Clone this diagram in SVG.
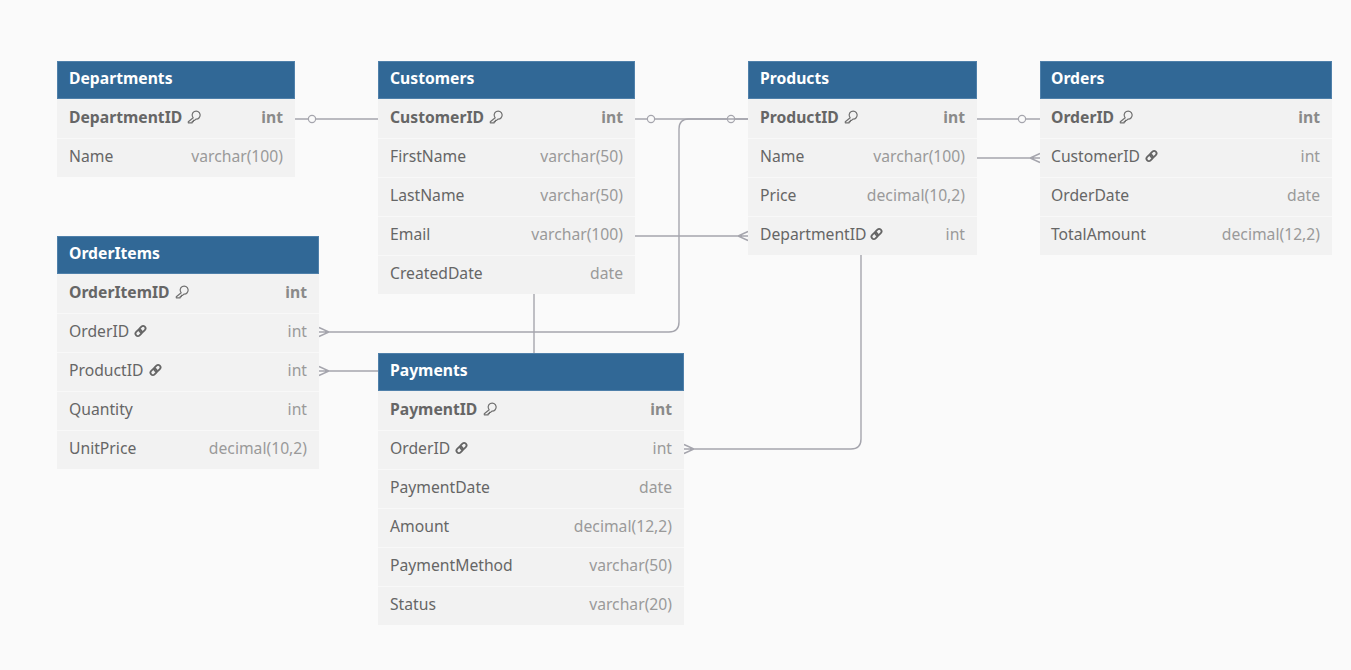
<svg xmlns="http://www.w3.org/2000/svg" xmlns:xlink="http://www.w3.org/1999/xlink" width="1351" height="670" viewBox="0 0 1351 670">
<style>
.hd{fill:#316896;stroke:#4f80aa;stroke-width:1}
.bd{fill:#f2f2f2}
.sep{stroke:#f8f8f8;stroke-width:1}
text{font-family:"Noto Sans","Open Sans",sans-serif;font-size:15.7px}
.ht{fill:#ffffff;font-weight:700}
.nm{fill:#666666}
.pk{font-weight:700}
.ty{fill:#9a9a9a;text-anchor:end}
.tpk{fill:#8a8a8a;font-weight:700;text-anchor:end}
.ln{fill:none;stroke:#a5a5ad;stroke-width:1.4}
.dot{fill:#fafafa;stroke:#a5a5ad;stroke-width:1.2}
.ic{fill:none;stroke:#707070;stroke-width:1.2;stroke-linecap:round;stroke-linejoin:round}
.lk{fill:none;stroke:#666666;stroke-width:1.8}
</style>
<defs>
<g id="key"><path class="ic" d="M6.2 7.3 A4 4 0 1 1 8.9 8.6 L7.6 9.9 L6.4 9.9 L6.4 11.1 L5.2 11.1 L5.2 12.3 L1.3 12.3 L1.3 11.3 Z"/></g>
<g id="link"><g transform="rotate(-45 6.5 6.5)"><rect class="lk" x="0.4" y="4.1" width="7" height="4.8" rx="2.4"/><rect class="lk" x="5.6" y="4.1" width="7" height="4.8" rx="2.4"/></g></g>
</defs>
<rect width="1351" height="670" fill="#fafafa"/>

<g id="connectors">
<path class="ln" d="M295 119 H378"/><circle class="dot" cx="312" cy="119" r="3.6"/>
<path class="ln" d="M635 119 H748"/><circle class="dot" cx="651" cy="119" r="3.6"/><circle class="dot" cx="731" cy="119" r="3.6"/>
<path class="ln" d="M748 119 H689 Q679 119 679 129 V322 Q679 332 669 332 H319 M319 327.5 L329 332 L319 336.5"/>
<path class="ln" d="M977 119 H1040"/><circle class="dot" cx="1022" cy="119" r="3.6"/>
<path class="ln" d="M977 158 H1040 M1040 153.5 L1030 158 L1040 162.5"/>
<path class="ln" d="M635 236 H748 M748 231.5 L738 236 L748 240.5"/>
<path class="ln" d="M534 294 V353"/>
<path class="ln" d="M319 371 H378 M319 366.5 L329 371 L319 375.5"/>
<path class="ln" d="M861 255 V439 Q861 449 851 449 H684 M684 444.5 L694 449 L684 453.5"/>
</g>

<g id="Departments">
<rect class="bd" x="57" y="99" width="238" height="78"/>
<line class="sep" x1="57" y1="138.5" x2="295" y2="138.5"/>
<rect class="hd" x="57.5" y="61.5" width="237" height="37"/>
<text class="ht" x="69" y="84">Departments</text>
<text class="nm pk" x="69" y="123">DepartmentID</text><use xlink:href="#key" x="187" y="110.5"/><text class="tpk" x="283" y="123">int</text>
<text class="nm" x="69" y="162">Name</text><text class="ty" x="283" y="162">varchar(100)</text>
</g>

<g id="Customers">
<rect class="bd" x="378" y="99" width="257" height="195"/>
<line class="sep" x1="378" y1="138.5" x2="635" y2="138.5"/>
<line class="sep" x1="378" y1="177.5" x2="635" y2="177.5"/>
<line class="sep" x1="378" y1="216.5" x2="635" y2="216.5"/>
<line class="sep" x1="378" y1="255.5" x2="635" y2="255.5"/>
<rect class="hd" x="378.5" y="61.5" width="256" height="37"/>
<text class="ht" x="390" y="84">Customers</text>
<text class="nm pk" x="390" y="123">CustomerID</text><use xlink:href="#key" x="489" y="110.5"/><text class="tpk" x="623" y="123">int</text>
<text class="nm" x="390" y="162">FirstName</text><text class="ty" x="623" y="162">varchar(50)</text>
<text class="nm" x="390" y="201">LastName</text><text class="ty" x="623" y="201">varchar(50)</text>
<text class="nm" x="390" y="240">Email</text><text class="ty" x="623" y="240">varchar(100)</text>
<text class="nm" x="390" y="279">CreatedDate</text><text class="ty" x="623" y="279">date</text>
</g>

<g id="Products">
<rect class="bd" x="748" y="99" width="229" height="156"/>
<line class="sep" x1="748" y1="138.5" x2="977" y2="138.5"/>
<line class="sep" x1="748" y1="177.5" x2="977" y2="177.5"/>
<line class="sep" x1="748" y1="216.5" x2="977" y2="216.5"/>
<rect class="hd" x="748.5" y="61.5" width="228" height="37"/>
<text class="ht" x="760" y="84">Products</text>
<text class="nm pk" x="760" y="123">ProductID</text><use xlink:href="#key" x="844" y="110.5"/><text class="tpk" x="965" y="123">int</text>
<text class="nm" x="760" y="162">Name</text><text class="ty" x="965" y="162">varchar(100)</text>
<text class="nm" x="760" y="201">Price</text><text class="ty" x="965" y="201">decimal(10,2)</text>
<text class="nm" x="760" y="240">DepartmentID</text><use xlink:href="#link" x="870" y="227.5"/><text class="ty" x="965" y="240">int</text>
</g>

<g id="Orders">
<rect class="bd" x="1040" y="99" width="292" height="156"/>
<line class="sep" x1="1040" y1="138.5" x2="1332" y2="138.5"/>
<line class="sep" x1="1040" y1="177.5" x2="1332" y2="177.5"/>
<line class="sep" x1="1040" y1="216.5" x2="1332" y2="216.5"/>
<rect class="hd" x="1040.5" y="61.5" width="291" height="37"/>
<text class="ht" x="1051" y="84">Orders</text>
<text class="nm pk" x="1051" y="123">OrderID</text><use xlink:href="#key" x="1119" y="110.5"/><text class="tpk" x="1320" y="123">int</text>
<text class="nm" x="1051" y="162">CustomerID</text><use xlink:href="#link" x="1145" y="149.5"/><text class="ty" x="1320" y="162">int</text>
<text class="nm" x="1051" y="201">OrderDate</text><text class="ty" x="1320" y="201">date</text>
<text class="nm" x="1051" y="240">TotalAmount</text><text class="ty" x="1320" y="240">decimal(12,2)</text>
</g>

<g id="OrderItems">
<rect class="bd" x="57" y="274" width="262" height="195"/>
<line class="sep" x1="57" y1="313.5" x2="319" y2="313.5"/>
<line class="sep" x1="57" y1="352.5" x2="319" y2="352.5"/>
<line class="sep" x1="57" y1="391.5" x2="319" y2="391.5"/>
<line class="sep" x1="57" y1="430.5" x2="319" y2="430.5"/>
<rect class="hd" x="57.5" y="236.5" width="261" height="37"/>
<text class="ht" x="69" y="259">OrderItems</text>
<text class="nm pk" x="69" y="298">OrderItemID</text><use xlink:href="#key" x="175" y="285.5"/><text class="tpk" x="307" y="298">int</text>
<text class="nm" x="69" y="337">OrderID</text><use xlink:href="#link" x="134" y="324.5"/><text class="ty" x="307" y="337">int</text>
<text class="nm" x="69" y="376">ProductID</text><use xlink:href="#link" x="149" y="363.5"/><text class="ty" x="307" y="376">int</text>
<text class="nm" x="69" y="415">Quantity</text><text class="ty" x="307" y="415">int</text>
<text class="nm" x="69" y="454">UnitPrice</text><text class="ty" x="307" y="454">decimal(10,2)</text>
</g>

<g id="Payments">
<rect class="bd" x="378" y="391" width="306" height="234"/>
<line class="sep" x1="378" y1="430.5" x2="684" y2="430.5"/>
<line class="sep" x1="378" y1="469.5" x2="684" y2="469.5"/>
<line class="sep" x1="378" y1="508.5" x2="684" y2="508.5"/>
<line class="sep" x1="378" y1="547.5" x2="684" y2="547.5"/>
<line class="sep" x1="378" y1="586.5" x2="684" y2="586.5"/>
<rect class="hd" x="378.5" y="353.5" width="305" height="37"/>
<text class="ht" x="390" y="376">Payments</text>
<text class="nm pk" x="390" y="415">PaymentID</text><use xlink:href="#key" x="483" y="402.5"/><text class="tpk" x="672" y="415">int</text>
<text class="nm" x="390" y="454">OrderID</text><use xlink:href="#link" x="455" y="441.5"/><text class="ty" x="672" y="454">int</text>
<text class="nm" x="390" y="493">PaymentDate</text><text class="ty" x="672" y="493">date</text>
<text class="nm" x="390" y="532">Amount</text><text class="ty" x="672" y="532">decimal(12,2)</text>
<text class="nm" x="390" y="571">PaymentMethod</text><text class="ty" x="672" y="571">varchar(50)</text>
<text class="nm" x="390" y="610">Status</text><text class="ty" x="672" y="610">varchar(20)</text>
</g>
</svg>
